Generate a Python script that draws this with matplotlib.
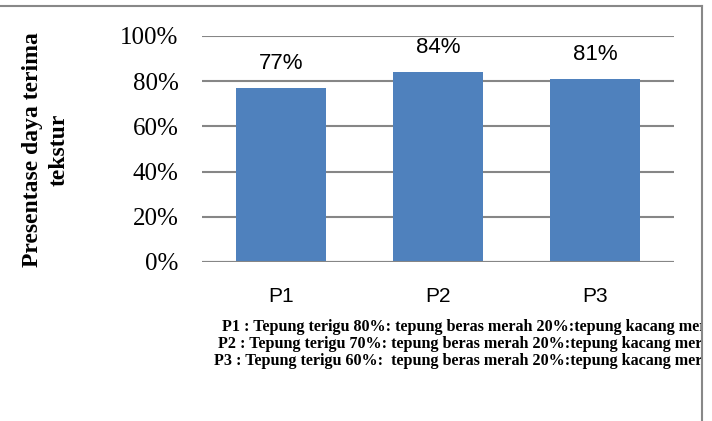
import matplotlib.pyplot as plt
from matplotlib import font_manager as fm
from matplotlib.patches import Rectangle
from matplotlib.lines import Line2D

categories = ['P1', 'P2', 'P3']
values = [77, 84, 81]
bar_labels = ['77%', '84%', '81%']
yticks = [0, 20, 40, 60, 80, 100]
ytick_labels = ['0%', '20%', '40%', '60%', '80%', '100%']
notes = [
    'P1 : Tepung terigu 80%: tepung beras merah 20%:tepung kacang mer',
    'P2 : Tepung terigu 70%: tepung beras merah 20%:tepung kacang mer',
    'P3 : Tepung terigu 60%:  tepung beras merah 20%:tepung kacang mer',
]

serif_path = fm.findfont(fm.FontProperties(family='Liberation Serif'))
serif_fp = fm.FontProperties(fname=serif_path, size=18)

W, H = 712, 421
fig = plt.figure(figsize=(W / 100, H / 100), dpi=100)

# plot area in pixels: x 202..674, y 36..262
ax = fig.add_axes([202 / W, 1 - 262 / H, (674 - 202) / W, (262 - 36) / H])
x = range(len(categories))
ax.bar(x, values, width=0.57, color='#4F81BD', zorder=3)
ax.set_xlim(-0.5, 2.5)
ax.set_ylim(0, 100)
ax.set_yticks(yticks, ytick_labels)
for lab in ax.get_yticklabels():
    lab.set_fontproperties(serif_fp)
ax.set_xticks(list(x), categories, family='Liberation Sans', fontsize=15)
ax.tick_params(axis='both', length=0)
ax.tick_params(axis='y', pad=17)
ax.tick_params(axis='x', pad=18)
ax.yaxis.grid(True, color='#868686', linewidth=1.5, zorder=0)
for s in ax.spines.values():
    s.set_visible(False)
ax.axhline(0, color='#868686', linewidth=1.5, zorder=4)

for xi, v, lab in zip(x, values, bar_labels):
    ax.annotate(lab, (xi, v), xytext=(0, 10), textcoords='offset points',
                ha='center', va='bottom', family='Liberation Sans', fontsize=16)

fig.text(46 / W, 1 - 150 / H, 'Presentase daya terima\ntekstur', rotation=90,
         ha='center', va='center', family='Liberation Serif', fontweight='bold',
         fontsize=17, linespacing=1.35)

note_x = [222, 218, 214]
note_y = [327, 344, 361]
for nx, ny, t in zip(note_x, note_y, notes):
    fig.text(nx / W, 1 - ny / H, t, ha='left', va='center',
             family='Liberation Serif', fontweight='bold', fontsize=11.6)

# white strip to the right of the frame, then the frame lines
fig.patches.append(Rectangle((701 / W, 0), 1, 1, transform=fig.transFigure,
                             facecolor='white', edgecolor='none', zorder=10))
fig.lines.append(Line2D([0, 702 / W], [1 - 6 / H, 1 - 6 / H], transform=fig.transFigure,
                        color='#888888', linewidth=1.5, zorder=11))
fig.lines.append(Line2D([702 / W, 702 / W], [0, 1 - 6 / H], transform=fig.transFigure,
                        color='#888888', linewidth=1.5, zorder=11))

fig.savefig('out.png', dpi=100)
